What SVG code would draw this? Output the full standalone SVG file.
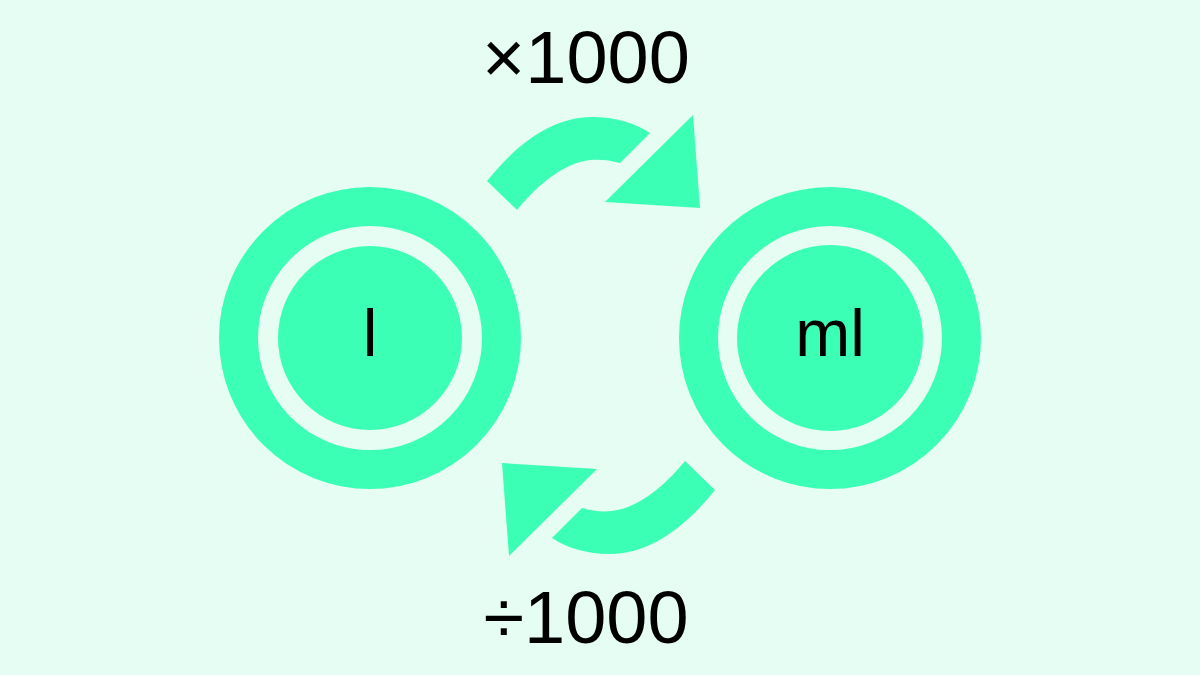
<svg xmlns="http://www.w3.org/2000/svg" width="1200" height="675" viewBox="0 0 1200 675">
  <style>
    .g { fill: #3affb4; }
    .ring { fill: none; stroke: #3affb4; stroke-width: 39; }
    .t { font-family: "Liberation Sans", Arial, sans-serif; fill: #000; text-anchor: middle; }
  </style>
  <defs>
    <g id="arrowShape">
      <path class="g" d="M487,181 C520,140 555,117 592,117 C615,117 635,123 650,133 L620,163 C610,160 600,159 590,160 C565,163 540,182 517,210 Z"/>
      <polygon class="g" points="693,115 700,208 605,202"/>
    </g>
  </defs>
  <rect width="1200" height="675" fill="#e6fdf3"/>
  <g id="node-l">
    <circle class="ring" cx="370" cy="338" r="131.5"/>
    <circle class="g" cx="370" cy="338" r="92"/>
    <text class="t" x="370" y="356" font-size="66">l</text>
  </g>
  <g id="node-ml">
    <circle class="ring" cx="830" cy="338" r="131.5"/>
    <circle class="g" cx="830" cy="338" r="93"/>
    <text class="t" x="830" y="356" font-size="66">ml</text>
  </g>
  <g id="connectors">
    <use href="#arrowShape"/>
    <use href="#arrowShape" transform="rotate(180 601 335.5)"/>
  </g>
  <g id="labels">
    <text class="t" x="586" y="83" font-size="74">×1000</text>
    <text class="t" x="586" y="643" font-size="74">÷1000</text>
  </g>
</svg>
